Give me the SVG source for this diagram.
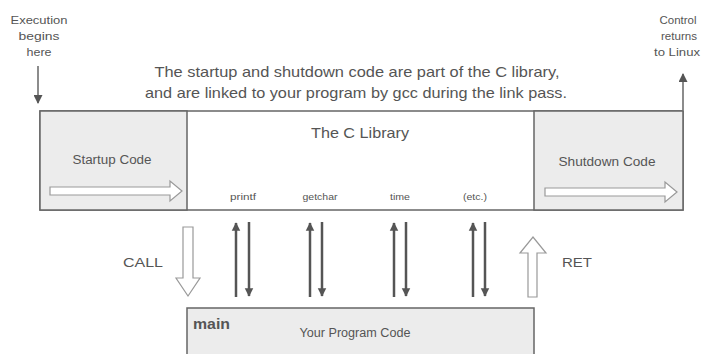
<svg xmlns="http://www.w3.org/2000/svg" width="707" height="354" viewBox="0 0 707 354">
<defs>
<style>
text{font-family:"Liberation Sans",Arial,sans-serif;fill:#555;}
.box{fill:#fff;stroke:#666;stroke-width:1.5;}
.shade{fill:#ececec;stroke:#666;stroke-width:1.5;}
.hollow{fill:#fff;stroke:#999;stroke-width:1.2;stroke-linejoin:miter;}
.solid{stroke:#555;stroke-width:2.5;fill:none;}
.thin{stroke:#666;stroke-width:1.5;fill:none;}
.lbl{font-size:9px;text-anchor:middle;}
.note{font-size:11px;text-anchor:middle;}
</style>
<marker id="ah" viewBox="0 0 10 10" refX="9" refY="5" markerWidth="3.4" markerHeight="4" orient="auto" markerUnits="strokeWidth">
<path d="M0,0 L10,5 L0,10 z" fill="#555"/>
</marker>
<marker id="ah2" viewBox="0 0 10 10" refX="9" refY="5" markerWidth="7" markerHeight="6" orient="auto" markerUnits="strokeWidth">
<path d="M0,0 L10,5 L0,10 z" fill="#555"/>
</marker>
</defs>
<rect width="707" height="354" fill="#fff"/>

<g id="caption">
<text x="357" y="77" font-size="14.5" text-anchor="middle" textLength="405" lengthAdjust="spacingAndGlyphs">The startup and shutdown code are part of the C library,</text>
<text x="356" y="98" font-size="14.5" text-anchor="middle" textLength="422" lengthAdjust="spacingAndGlyphs">and are linked to your program by gcc during the link pass.</text>
</g>

<g id="exec-note">
<text class="note" x="39" y="24" textLength="57" lengthAdjust="spacingAndGlyphs">Execution</text>
<text class="note" x="39" y="40" textLength="41" lengthAdjust="spacingAndGlyphs">begins</text>
<text class="note" x="39" y="56" textLength="25" lengthAdjust="spacingAndGlyphs">here</text>
</g>

<g id="control-note">
<text class="note" x="678" y="24" textLength="37" lengthAdjust="spacingAndGlyphs">Control</text>
<text class="note" x="679" y="40" textLength="36" lengthAdjust="spacingAndGlyphs">returns</text>
<text class="note" x="677" y="56" textLength="46" lengthAdjust="spacingAndGlyphs">to Linux</text>
</g>

<g id="library">
<rect class="box" x="40" y="111" width="643" height="99"/>
<text x="360" y="138" font-size="14.5" text-anchor="middle" textLength="98" lengthAdjust="spacingAndGlyphs">The C Library</text>
<text class="lbl" x="243" y="200" textLength="26" lengthAdjust="spacingAndGlyphs">printf</text>
<text class="lbl" x="320" y="200" textLength="35" lengthAdjust="spacingAndGlyphs">getchar</text>
<text class="lbl" x="400" y="200" textLength="20" lengthAdjust="spacingAndGlyphs">time</text>
<text class="lbl" x="475" y="200" textLength="24" lengthAdjust="spacingAndGlyphs">(etc.)</text>
</g>

<g id="startup">
<rect class="shade" x="40" y="111" width="147" height="99"/>
<text x="112" y="164" font-size="12" text-anchor="middle" textLength="79" lengthAdjust="spacingAndGlyphs">Startup Code</text>
<path class="hollow" d="M50,187 L170,187 L170,181 L182,191 L170,201 L170,195 L50,195 Z"/>
</g>

<g id="shutdown">
<rect class="shade" x="534" y="111" width="149" height="99"/>
<text x="607" y="166" font-size="12" text-anchor="middle" textLength="97" lengthAdjust="spacingAndGlyphs">Shutdown Code</text>
<path class="hollow" d="M545,188 L665,188 L665,182 L677,192 L665,202 L665,196 L545,196 Z"/>
</g>

<g id="main">
<rect class="shade" x="187" y="308" width="347" height="50"/>
<text x="193" y="329" font-size="14" font-weight="bold" fill="#444" textLength="37" lengthAdjust="spacingAndGlyphs">main</text>
<text x="355" y="337" font-size="12" text-anchor="middle" textLength="111" lengthAdjust="spacingAndGlyphs">Your Program Code</text>
</g>

<g id="call">
<text x="143" y="267" font-size="13.5" text-anchor="middle" textLength="40" lengthAdjust="spacingAndGlyphs">CALL</text>
</g>
<g id="ret">
<text x="577" y="267" font-size="13.5" text-anchor="middle" textLength="30" lengthAdjust="spacingAndGlyphs">RET</text>
</g>

<g id="connectors">
<line class="thin" x1="38" y1="66" x2="38" y2="103" marker-end="url(#ah2)"/>
<line class="thin" x1="683" y1="110" x2="683" y2="74" marker-end="url(#ah2)"/>
<path class="hollow" d="M183,227 L193,227 L193,278 L200,278 L188,296 L176,278 L183,278 Z"/>
<path class="hollow" d="M528,297 L537,297 L537,253 L546,253 L533,237 L520,253 L528,253 Z"/>
<line class="solid" x1="236" y1="297" x2="236" y2="223" marker-end="url(#ah)"/>
<line class="solid" x1="249" y1="222" x2="249" y2="296" marker-end="url(#ah)"/>
<line class="solid" x1="310" y1="297" x2="310" y2="223" marker-end="url(#ah)"/>
<line class="solid" x1="322" y1="222" x2="322" y2="296" marker-end="url(#ah)"/>
<line class="solid" x1="394" y1="297" x2="394" y2="223" marker-end="url(#ah)"/>
<line class="solid" x1="406" y1="222" x2="406" y2="296" marker-end="url(#ah)"/>
<line class="solid" x1="473" y1="297" x2="473" y2="223" marker-end="url(#ah)"/>
<line class="solid" x1="485" y1="222" x2="485" y2="296" marker-end="url(#ah)"/>
</g>
</svg>
